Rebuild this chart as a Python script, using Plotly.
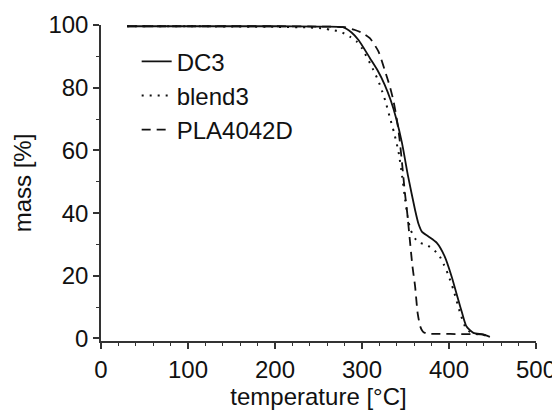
import plotly.graph_objects as go

# temperature [°C] and mass [%]
dc3_t = [30, 100, 200, 250, 278, 288, 296, 309, 318, 326, 333, 339, 346, 353, 361, 365, 369, 376, 386, 395, 403, 411, 415, 420, 428, 439, 447]
dc3_m = [99.6, 99.6, 99.6, 99.5, 99.3, 97.6, 95.2, 89.5, 85.5, 81.0, 76.0, 70.5, 62.3, 51.7, 41.0, 36.5, 34.0, 32.6, 30.5, 26.2, 19.8, 12.0, 8.2, 3.9, 1.8, 1.3, 0.5]

blend_t = [30, 100, 200, 240, 256, 265, 275, 286, 294, 300, 313, 319, 323, 327, 332, 337, 342, 346, 349.5, 353, 356, 359, 362, 365, 376, 388, 394, 399, 405, 413, 420, 428, 439, 447]
blend_m = [99.6, 99.6, 99.4, 99.2, 98.9, 98.4, 97.9, 96.3, 94.7, 92.6, 85.7, 82.0, 79.0, 75.6, 70.5, 65.5, 59.5, 52.0, 44.5, 38.0, 34.5, 33.0, 31.5, 30.7, 29.6, 26.8, 23.6, 20.4, 15.6, 8.0, 3.0, 1.6, 1.2, 0.5]

pla_t = [30, 100, 200, 250, 280, 292, 300, 309, 319, 326, 332, 336, 340, 343, 346, 349.5, 352, 355, 358, 361, 364, 367, 370, 374, 390, 413, 428, 439, 447]
pla_m = [99.6, 99.6, 99.6, 99.5, 99.3, 98.4, 97.5, 95.8, 91.5, 85.7, 80.4, 76.0, 70.0, 64.0, 56.0, 46.0, 40.0, 31.4, 23.0, 16.7, 8.0, 3.8, 2.2, 1.6, 1.5, 1.4, 1.4, 1.2, 0.5]

x_ticks = [0, 100, 200, 300, 400, 500]
y_ticks = [0, 20, 40, 60, 80, 100]

FONT = "Liberation Sans, Arial, sans-serif"
INK = "#111111"
FS = 24

fig = go.Figure()
fig.add_trace(go.Scatter(x=dc3_t, y=dc3_m, mode="lines", name="DC3",
                         line=dict(color=INK, width=1.8, dash="solid",
                                   shape="spline", smoothing=0.6)))
fig.add_trace(go.Scatter(x=blend_t, y=blend_m, mode="lines", name="blend3",
                         line=dict(color=INK, width=2, dash="2px,6px",
                                   shape="spline", smoothing=0.6)))
fig.add_trace(go.Scatter(x=pla_t, y=pla_m, mode="lines", name="PLA4042D",
                         line=dict(color=INK, width=1.8, dash="9px,6px",
                                   shape="spline", smoothing=0.6)))

axis_common = dict(showline=True, linecolor="#333333", linewidth=1.5, ticks="outside",
                   ticklen=6, tickwidth=1.5, tickcolor="#333333", showgrid=False,
                   zeroline=False, mirror=False, automargin=False,
                   tickfont=dict(family=FONT, size=FS, color=INK))

# the page body adds an 8px offset, so the figure is sized 552x406
fig.update_layout(
    width=552, height=406,
    margin=dict(l=93, r=24, t=17, b=73),
    paper_bgcolor="white", plot_bgcolor="white",
    font=dict(family=FONT, size=FS, color=INK),
    showlegend=True,
    legend=dict(x=0.082, y=0.955, xanchor="left", yanchor="top",
                bgcolor="rgba(0,0,0,0)", borderwidth=0,
                font=dict(family=FONT, size=FS, color=INK),
                itemwidth=30, tracegroupgap=0),
    xaxis=dict(range=[0, 500], tickvals=x_ticks, ticktext=[str(v) for v in x_ticks],
               title=dict(text="temperature [°C]", standoff=1,
                          font=dict(family=FONT, size=FS, color=INK)),
               minor=dict(dtick=20, ticks="outside", ticklen=3, tickwidth=1.2,
                          tickcolor="#333333", showgrid=False),
               **axis_common),
    yaxis=dict(range=[-0.8, 100], tickvals=y_ticks, ticktext=[str(v) for v in y_ticks],
               title=dict(text="mass [%]", standoff=10,
                          font=dict(family=FONT, size=FS, color=INK)),
               minor=dict(dtick=10, ticks="outside", ticklen=3, tickwidth=1.2,
                          tickcolor="#333333", showgrid=False),
               **axis_common),
)

fig.write_html("out.html")
